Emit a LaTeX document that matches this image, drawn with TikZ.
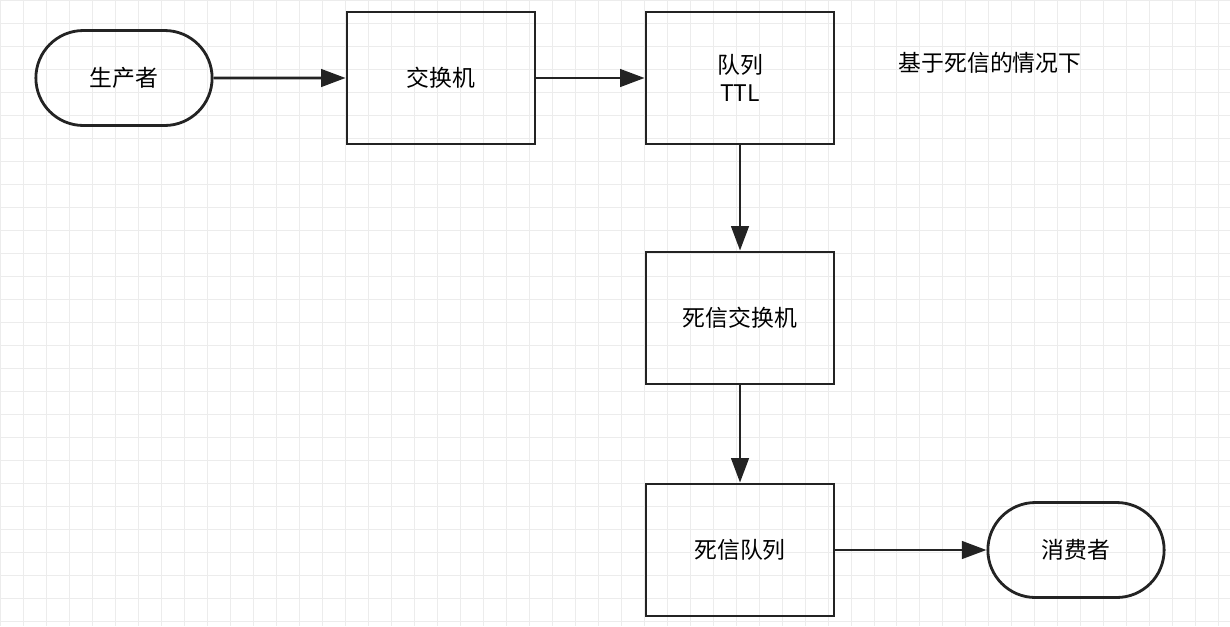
\documentclass[tikz,border=0pt]{standalone}
\usepackage{fontspec}
\setmainfont{Noto Sans CJK SC}
\usetikzlibrary{arrows.meta, positioning, shapes.misc}
\definecolor{line_gray}{RGB}{35, 35, 35}
\definecolor{grid_gray}{RGB}{236, 236, 236}

\begin{document}
\begin{tikzpicture}[
    x=0.02cm, y=-0.02cm,
    box/.style={
        rectangle,
        draw=line_gray,
        line width=1.6pt,
        minimum width=3.76cm,
        minimum height=2.64cm,
        font=\fontsize{13}{16}\selectfont,
        align=center
    },
    terminal/.style={
        rounded rectangle,
        draw=line_gray,
        line width=1.6pt,
        minimum width=3.76cm,
        minimum height=1.9cm,
        font=\fontsize{13}{16}\selectfont
    },
    arrow/.style={
        -{Triangle[length=14pt, width=10pt]},
        line width=1.6pt,
        line_gray
    }
]
\useasboundingbox (0,0) rectangle (1230,626);
\draw[grid_gray, step=0.46cm] (0,0) grid (1230,626);

\node[terminal] (producer) at (124,78) {生产者};
\node[box] (exchange) at (441,78) {交换机};
\node[box] (queue) at (740,78) {队列\\TTL};
\node[box] (dl_exchange) at (740,318) {死信交换机};
\node[box] (dl_queue) at (740,550) {死信队列};
\node[terminal] (consumer) at (1076,550) {消费者};

\node[font=\fontsize{13}{16}\selectfont] (note) at (990,63) {基于死信的情况下};

% main flow
\draw[arrow] (producer) -- (exchange);
\draw[arrow] (exchange) -- (queue);
\draw[arrow] (queue) -- (dl_exchange);
\draw[arrow] (dl_exchange) -- (dl_queue);
\draw[arrow] (dl_queue) -- (consumer);

\end{tikzpicture}
\end{document}
